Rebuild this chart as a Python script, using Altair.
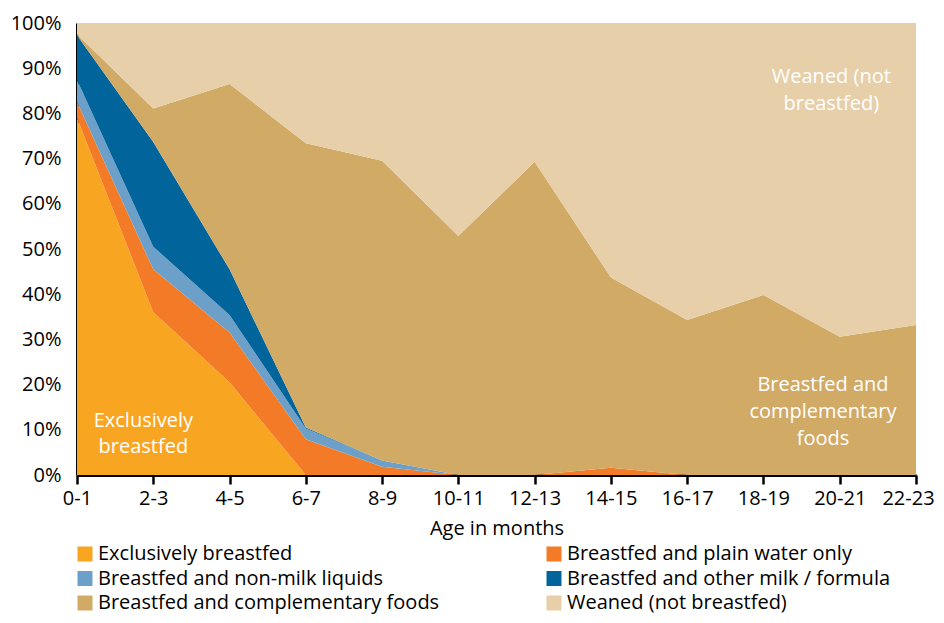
import altair as alt
import pandas as pd

ages = ["0-1", "2-3", "4-5", "6-7", "8-9", "10-11", "12-13", "14-15",
        "16-17", "18-19", "20-21", "22-23"]

series = [
    "Exclusively breastfed",
    "Breastfed and plain water only",
    "Breastfed and non-milk liquids",
    "Breastfed and other milk / formula",
    "Breastfed and complementary foods",
    "Weaned (not breastfed)",
]
colors = ["#F8A521", "#F37B27", "#6CA0C9", "#01649B", "#D1AA66", "#E6CFA9"]

exclusive     = [79.0, 36.0, 20.5, 0.0, 0.0, 0.0, 0.0, 0.0, 0.0, 0.0, 0.0, 0.0]
plain_water   = [3.5, 9.5, 11.0, 7.9, 1.8, 0.0, 0.0, 1.6, 0.0, 0.0, 0.0, 0.0]
non_milk      = [4.9, 5.0, 3.9, 2.4, 1.4, 0.0, 0.0, 0.0, 0.0, 0.0, 0.0, 0.0]
other_milk    = [9.9, 23.2, 10.1, 0.2, 0.0, 0.0, 0.0, 0.0, 0.0, 0.0, 0.0, 0.0]
complementary = [0.2, 7.4, 41.0, 62.9, 66.3, 52.9, 69.3, 42.1, 34.3, 39.8, 30.6, 33.2]
weaned        = [2.5, 18.9, 13.5, 26.6, 30.5, 47.1, 30.7, 56.3, 65.7, 60.2, 69.4, 66.8]

values = [exclusive, plain_water, non_milk, other_milk, complementary, weaned]

# legend is filled column by column: left column first, then right column
legend_order = [0, 2, 4, 1, 3, 5]

# in-chart annotations (text, age position index, percent)
annot_text = ["Exclusively", "breastfed",
              "Weaned (not", "breastfed)",
              "Breastfed and", "complementary", "foods"]
annot_x = [0.87, 0.87, 9.89, 9.89, 9.78, 9.78, 9.78]
annot_y = [11.9, 6.2, 88.1, 82.1, 19.9, 13.9, 8.0]

rows = []
for s_i, (name, vals) in enumerate(zip(series, values)):
    for a_i, v in enumerate(vals):
        rows.append({"idx": a_i, "age": ages[a_i], "series": name,
                     "value": v, "ord": s_i})
df = pd.DataFrame(rows)

ann = pd.DataFrame({"text": annot_text, "idx": annot_x, "value": annot_y})

FONT = "Open Sans"
label_expr = "[" + ",".join("'%s'" % a for a in ages) + "][datum.value]"
last_idx = len(ages) - 1

x_enc = alt.X(
    "idx:Q",
    scale=alt.Scale(domain=[0, last_idx], nice=False, zero=False),
    axis=alt.Axis(
        values=list(range(len(ages))), labelExpr=label_expr,
        title="Age in months", grid=False,
        domainColor="black", domainWidth=3,
        tickColor="black", tickWidth=2.5, tickSize=9,
        labelFont=FONT, labelFontSize=20, labelColor="black", labelPadding=4,
        labelOffset={"condition": {"test": "datum.value == %d" % last_idx,
                                   "value": -8}, "value": 0},
        labelFlush=False, labelOverlap=False,
        titleFont=FONT, titleFontSize=20, titleFontWeight="normal",
        titleColor="black", titlePadding=10,
    ),
)
y_enc = alt.Y(
    "value:Q",
    stack="zero",
    scale=alt.Scale(domain=[0, 100], nice=False),
    axis=alt.Axis(
        values=list(range(0, 101, 10)), labelExpr="datum.value + '%'",
        title=None, grid=False, ticks=False,
        domainColor="black", domainWidth=3,
        labelFont=FONT, labelFontSize=20, labelColor="black", labelPadding=16,
        labelFlush=False, labelOverlap=False,
    ),
)

area = alt.Chart(df).mark_area(opacity=1).encode(
    x=x_enc,
    y=y_enc,
    color=alt.Color(
        "series:N",
        scale=alt.Scale(domain=[series[i] for i in legend_order],
                        range=[colors[i] for i in legend_order]),
        legend=alt.Legend(
            title=None, orient="none", legendX=-2, legendY=521,
            columns=2, columnPadding=104, rowPadding=4.5,
            symbolType="square", symbolSize=225, symbolStrokeWidth=0,
            symbolOpacity=1, labelOffset=3,
            labelFont=FONT, labelFontSize=20, labelColor="black",
            labelLimit=600,
        ),
    ),
    order=alt.Order("ord:Q"),
)

labels = alt.Chart(ann).mark_text(
    font=FONT, fontSize=20, color="white", align="center", baseline="middle"
).encode(
    x=alt.X("idx:Q"),
    y=alt.Y("value:Q"),
    text="text:N",
)

chart = alt.layer(area, labels).properties(
    width=839, height=452,
    autosize=alt.AutoSizeParams(type="none"),
    padding={"left": 69, "top": 15, "right": 20, "bottom": 140},
    background="white",
).configure_view(stroke=None)

chart.save("out.html", embed_options={"renderer": "svg", "actions": False})
